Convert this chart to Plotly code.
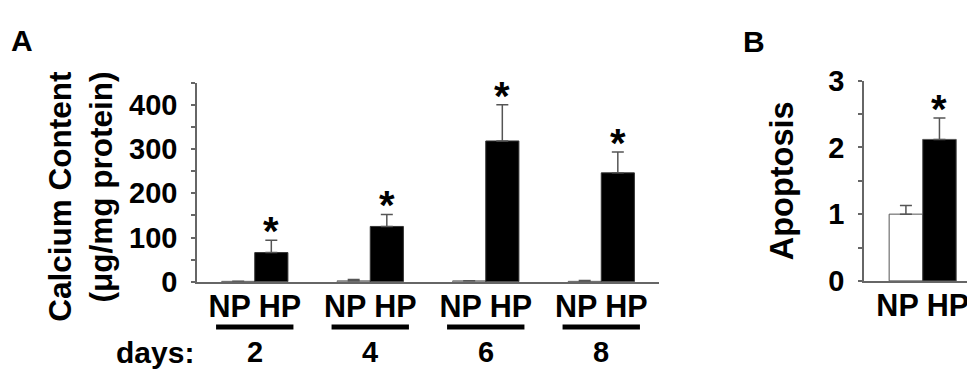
import plotly.graph_objects as go

# ---------------- data ----------------
days = ["2", "4", "6", "8"]
groups = ["NP", "HP"]
ca_np = [1, 2, 2, 1]
ca_np_err = [0.5, 3, 0.5, 2]
ca_hp = [66, 125, 318, 246]
ca_hp_err = [28, 27, 82, 47]
ca_sig = ["*", "*", "*", "*"]
ca_ticks = [0, 100, 200, 300, 400]
ca_minor = [50, 150, 250, 350, 450]

apo_groups = ["NP", "HP"]
apo_vals = [1.0, 2.12]
apo_err = [0.13, 0.32]
apo_sig = ["", "*"]
apo_ticks = [0, 1, 2, 3]
apo_minor = [0.5, 1.5, 2.5]

# ---------------- style ----------------
FONT = "Arial, Liberation Sans, sans-serif"
AX = "#666666"
OFF = 8                      # default page body margin
W, H = 975 - OFF, 381 - OFF
BARGAP = 0.426
bar_w = (1 - BARGAP) / 2


def px_x(p):
    return (p - OFF) / W


def px_y(p):
    return (H - (p - OFF)) / H


fig = go.Figure()

# Panel A
fig.add_trace(go.Bar(
    x=days, y=ca_np, name="NP", xaxis="x", yaxis="y",
    marker=dict(color="white", line=dict(color="#555555", width=1)),
    error_y=dict(type="data", array=ca_np_err, arrayminus=[0] * len(days),
                 symmetric=False, color="#555555", thickness=1.5, width=6),
))
fig.add_trace(go.Bar(
    x=days, y=ca_hp, name="HP", xaxis="x", yaxis="y",
    marker=dict(color="black", line=dict(color="#333333", width=1)),
    error_y=dict(type="data", array=ca_hp_err, arrayminus=[0] * len(days),
                 symmetric=False, color="#555555", thickness=1.5, width=6),
))

# Panel B
fig.add_trace(go.Bar(
    x=[0, 1], y=apo_vals, width=[1, 1], xaxis="x2", yaxis="y2",
    marker=dict(color=["white", "black"], line=dict(color="#555555", width=1)),
    error_y=dict(type="data", array=apo_err, arrayminus=[0, 0],
                 symmetric=False, color="#555555", thickness=1.5, width=6),
))

bold = dict(family=FONT, color="black", weight="bold")
annotations = []
shapes = []
for i, d in enumerate(days):
    annotations.append(dict(
        x=i + bar_w / 2, y=ca_hp[i] + ca_hp_err[i], xref="x", yref="y",
        text=ca_sig[i], showarrow=False, yanchor="bottom", yshift=-15,
        font=dict(size=40, **bold)))
    shapes.append(dict(type="line", xref="x", yref="paper",
                       x0=i - 0.335, x1=i + 0.335, y0=px_y(339.5), y1=px_y(339.5),
                       line=dict(color="black", width=5)))
    annotations.append(dict(
        x=i, y=px_y(367), xref="x", yref="paper", text=d, showarrow=False,
        yanchor="middle", font=dict(size=29, **bold)))

annotations.append(dict(x=px_x(155), y=px_y(367), xref="paper", yref="paper",
                        text="days:", showarrow=False, xanchor="center", yanchor="middle",
                        font=dict(size=30, **bold)))

for i, s in enumerate(apo_sig):
    if s:
        annotations.append(dict(
            x=i, y=apo_vals[i] + apo_err[i], xref="x2", yref="y2",
            text=s, showarrow=False, yanchor="bottom", yshift=-15,
            font=dict(size=40, **bold)))

annotations.append(dict(x=px_x(81), y=px_y(197), xref="paper", yref="paper",
                        text="Calcium Content<br>(μg/mg protein)", showarrow=False,
                        textangle=-90, align="right", xanchor="center", yanchor="middle",
                        font=dict(size=31.5, **bold)))
annotations.append(dict(x=px_x(782), y=px_y(180), xref="paper", yref="paper",
                        text="Apoptosis", showarrow=False, textangle=-90,
                        xanchor="center", yanchor="middle",
                        font=dict(size=32.5, **bold)))
annotations.append(dict(x=px_x(21.5), y=px_y(26.5), xref="paper", yref="paper",
                        text="A", showarrow=False, xanchor="center", yanchor="middle",
                        font=dict(size=30, **bold)))
annotations.append(dict(x=px_x(754), y=px_y(27), xref="paper", yref="paper",
                        text="B", showarrow=False, xanchor="center", yanchor="middle",
                        font=dict(size=30, **bold)))

tickfont = dict(size=29, **bold)
xtickfont = dict(size=30.5, **bold)

yaxis_common = dict(showgrid=False, zeroline=False, showline=True, linecolor=AX,
                    linewidth=1.5, ticks="outside", ticklen=4, tickwidth=1.5,
                    tickcolor=AX, tickfont=tickfont, ticklabelstandoff=8)
xaxis_common = dict(showline=True, linecolor=AX, linewidth=1.5, ticks="", showgrid=False,
                    zeroline=False, tickfont=xtickfont, ticklabelstandoff=-3,
                    ticklabeloverflow="allow")

fig.update_layout(
    width=W, height=H, margin=dict(l=0, r=0, t=0, b=0),
    paper_bgcolor="white", plot_bgcolor="white", showlegend=False,
    barmode="group", bargap=BARGAP, bargroupgap=0,
    xaxis=dict(domain=[px_x(197), px_x(659)], range=[-0.5, 3.5], type="category",
               tickmode="array", tickvals=days, ticktext=[" ".join(groups)] * len(days),
               anchor="y", **xaxis_common),
    yaxis=dict(domain=[px_y(290), px_y(72)], range=[0, 450], tickmode="array",
               tickvals=ca_ticks,
               minor=dict(tickmode="array", tickvals=ca_minor, ticks="outside", ticklen=4,
                          tickwidth=1.5, tickcolor=AX),
               anchor="x", **yaxis_common),
    xaxis2=dict(domain=[px_x(864), 1.0], range=[-1.25, 2.06],
                tickmode="array", tickvals=[0.5], ticktext=[" ".join(apo_groups)],
                anchor="y2", **xaxis_common),
    yaxis2=dict(domain=[px_y(289), px_y(70)], range=[0, 3], tickmode="array",
                tickvals=apo_ticks,
                minor=dict(tickmode="array", tickvals=apo_minor, ticks="outside", ticklen=4,
                           tickwidth=1.5, tickcolor=AX),
                anchor="x2", **yaxis_common),
    annotations=annotations, shapes=shapes,
)

fig.write_html("out.html")
